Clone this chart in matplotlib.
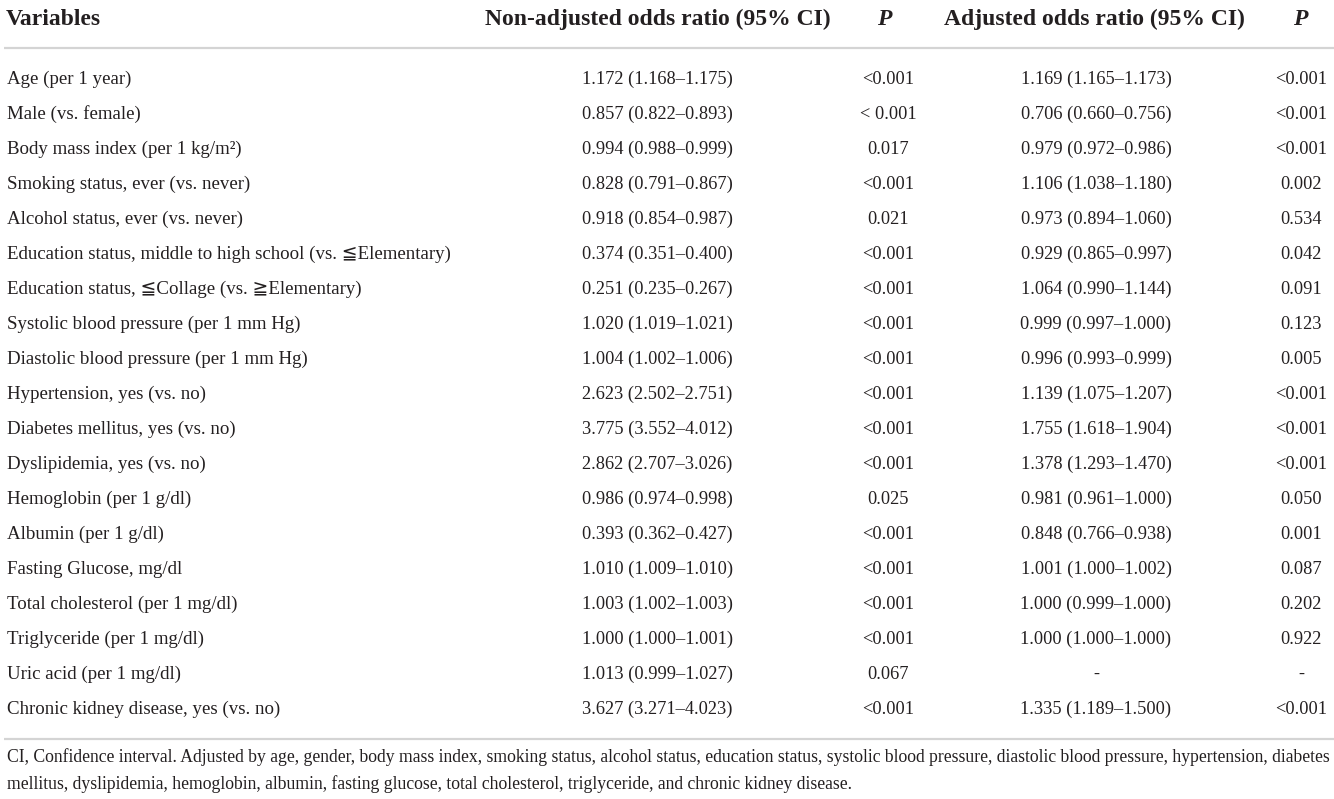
import matplotlib
matplotlib.use("Agg")
import matplotlib.pyplot as plt

variables = [
    "Age (per 1 year)",
    "Male (vs. female)",
    "Body mass index (per 1 kg/m²)",
    "Smoking status, ever (vs. never)",
    "Alcohol status, ever (vs. never)",
    "Education status, middle to high school (vs. \u2266Elementary)",
    "Education status, \u2266Collage (vs. \u2267Elementary)",
    "Systolic blood pressure (per 1 mm Hg)",
    "Diastolic blood pressure (per 1 mm Hg)",
    "Hypertension, yes (vs. no)",
    "Diabetes mellitus, yes (vs. no)",
    "Dyslipidemia, yes (vs. no)",
    "Hemoglobin (per 1 g/dl)",
    "Albumin (per 1 g/dl)",
    "Fasting Glucose, mg/dl",
    "Total cholesterol (per 1 mg/dl)",
    "Triglyceride (per 1 mg/dl)",
    "Uric acid (per 1 mg/dl)",
    "Chronic kidney disease, yes (vs. no)",
]
nonadj_or = [
    "1.172 (1.168\u20131.175)", "0.857 (0.822\u20130.893)", "0.994 (0.988\u20130.999)",
    "0.828 (0.791\u20130.867)", "0.918 (0.854\u20130.987)", "0.374 (0.351\u20130.400)",
    "0.251 (0.235\u20130.267)", "1.020 (1.019\u20131.021)", "1.004 (1.002\u20131.006)",
    "2.623 (2.502\u20132.751)", "3.775 (3.552\u20134.012)", "2.862 (2.707\u20133.026)",
    "0.986 (0.974\u20130.998)", "0.393 (0.362\u20130.427)", "1.010 (1.009\u20131.010)",
    "1.003 (1.002\u20131.003)", "1.000 (1.000\u20131.001)", "1.013 (0.999\u20131.027)",
    "3.627 (3.271\u20134.023)",
]
nonadj_p = [
    "<0.001", "< 0.001", "0.017", "<0.001", "0.021", "<0.001", "<0.001", "<0.001",
    "<0.001", "<0.001", "<0.001", "<0.001", "0.025", "<0.001", "<0.001", "<0.001",
    "<0.001", "0.067", "<0.001",
]
adj_or = [
    "1.169 (1.165\u20131.173)", "0.706 (0.660\u20130.756)", "0.979 (0.972\u20130.986)",
    "1.106 (1.038\u20131.180)", "0.973 (0.894\u20131.060)", "0.929 (0.865\u20130.997)",
    "1.064 (0.990\u20131.144)", "0.999 (0.997\u20131.000)", "0.996 (0.993\u20130.999)",
    "1.139 (1.075\u20131.207)", "1.755 (1.618\u20131.904)", "1.378 (1.293\u20131.470)",
    "0.981 (0.961\u20131.000)", "0.848 (0.766\u20130.938)", "1.001 (1.000\u20131.002)",
    "1.000 (0.999\u20131.000)", "1.000 (1.000\u20131.000)", "-", "1.335 (1.189\u20131.500)",
]
adj_p = [
    "<0.001", "<0.001", "<0.001", "0.002", "0.534", "0.042", "0.091", "0.123",
    "0.005", "<0.001", "<0.001", "<0.001", "0.050", "0.001", "0.087", "0.202",
    "0.922", "-", "<0.001",
]
headers = ["Variables", "Non-adjusted odds ratio (95% CI)", "P",
           "Adjusted odds ratio (95% CI)", "P"]
footnote = [
    "CI, Confidence interval. Adjusted by age, gender, body mass index, smoking status, alcohol status, "
    "education status, systolic blood pressure, diastolic blood pressure, hypertension, diabetes",
    "mellitus, dyslipidemia, hemoglobin, albumin, fasting glucose, total cholesterol, triglyceride, "
    "and chronic kidney disease.",
]

FAM = ["Liberation Serif", "DejaVu Serif", "DejaVu Sans"]
W, H = 1334, 799
fig = plt.figure(figsize=(W / 100, H / 100), dpi=100)
ax = fig.add_axes([0, 0, 1, 1])
ax.set_xlim(0, W)
ax.set_ylim(H, 0)
ax.axis("off")

txt = "#231f20"
fs = 13.2
fs_lab = 13.6
fs_head = 17.0
col_x = [7, 657, 888, 1096, 1301]

# header
hb = 25
ax.text(col_x[0] - 1, hb, headers[0], ha="left", va="baseline", fontsize=fs_head,
        fontweight="bold", family=FAM, color=txt)
for i in (1, 3):
    ax.text(col_x[i] + (1 if i == 1 else -2), hb, headers[i], ha="center", va="baseline",
            fontsize=fs_head, fontweight="bold", family=FAM, color=txt)
for i in (2, 4):
    ax.text(col_x[i] - (4 if i == 2 else 1), hb, headers[i], ha="center", va="baseline",
            fontsize=fs_head, fontweight="bold", fontstyle="italic", family=FAM, color=txt)

ax.plot([4, W], [48, 48], color="#d4d4d4", lw=1.6, solid_capstyle="butt")
ax.plot([4, W], [739, 739], color="#d4d4d4", lw=1.6, solid_capstyle="butt")

y0, dy = 84, 35
for r in range(len(variables)):
    y = y0 + r * dy
    ax.text(col_x[0], y, variables[r], ha="left", va="baseline", fontsize=fs_lab, family=FAM, color=txt)
    ax.text(col_x[1], y, nonadj_or[r], ha="center", va="baseline", fontsize=fs, family=FAM, color=txt)
    ax.text(col_x[2], y, nonadj_p[r], ha="center", va="baseline", fontsize=fs, family=FAM, color=txt)
    ax.text(col_x[3], y, adj_or[r], ha="center", va="baseline", fontsize=fs, family=FAM, color=txt)
    ax.text(col_x[4], y, adj_p[r], ha="center", va="baseline", fontsize=fs, family=FAM, color=txt)

for k, line in enumerate(footnote):
    ax.text(col_x[0], 762 + k * 27, line, ha="left", va="baseline", fontsize=12.7,
            family=FAM, color=txt)

fig.savefig("out.png", dpi=100)
